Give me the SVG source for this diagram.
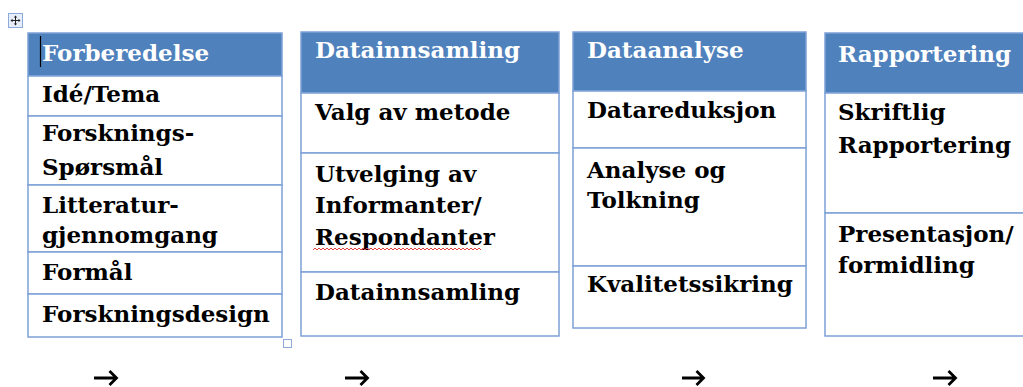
<svg xmlns="http://www.w3.org/2000/svg" width="1023" height="387" viewBox="0 0 1023 387">
  <style>
    .cell { fill: #ffffff; stroke: #7ea1d6; stroke-width: 1.5; }
    .head { fill: #4f81bd; stroke: #7ea1d6; stroke-width: 1.5; }
    .ht { font-family: "DejaVu Serif", "Liberation Serif", serif; font-weight: bold; font-size: 23px; fill: #ffffff; }
    .bt { font-family: "DejaVu Serif", "Liberation Serif", serif; font-weight: bold; font-size: 23px; fill: #000000; }
    .arrow { fill: none; stroke: #000000; stroke-width: 2.8; stroke-linecap: butt; stroke-linejoin: miter; }
  </style>

  <rect width="1023" height="387" fill="#ffffff"/>

  <!-- table move handle -->
  <g id="move-handle">
    <rect x="8.5" y="13.5" width="14" height="14" fill="#e6eefa" stroke="#8eaadb" stroke-width="1"/>
    <path d="M15.5 16 V25 M11 20.5 H20" stroke="#222" stroke-width="1" fill="none"/>
    <path d="M15.5 15.5 L13.8 17.5 H17.2 Z M15.5 25.5 L13.8 23.5 H17.2 Z M10.5 20.5 L12.5 18.8 V22.2 Z M20.5 20.5 L18.5 18.8 V22.2 Z" fill="#222"/>
  </g>

  <!-- Forberedelse -->
  <g id="forberedelse">
    <rect class="head" x="28" y="33" width="254" height="43"/>
    <rect class="cell" x="28" y="76" width="254" height="40"/>
    <rect class="cell" x="28" y="116" width="254" height="69"/>
    <rect class="cell" x="28" y="185" width="254" height="67"/>
    <rect class="cell" x="28" y="252" width="254" height="42"/>
    <rect class="cell" x="28" y="294" width="254" height="43"/>
    <text class="ht" x="42" y="61">Forberedelse</text>
    <line x1="40.5" y1="36" x2="40.5" y2="67" stroke="#000" stroke-width="1.2"/>
    <text class="bt" x="42" y="102">Idé/Tema</text>
    <text class="bt" x="42" y="141">Forsknings-</text>
    <text class="bt" x="42" y="175">Spørsmål</text>
    <text class="bt" x="42" y="213">Litteratur-</text>
    <text class="bt" x="42" y="243">gjennomgang</text>
    <text class="bt" x="42" y="280">Formål</text>
    <text class="bt" x="42" y="322">Forskningsdesign</text>
    <rect x="283.5" y="339.5" width="8" height="8" fill="#ffffff" stroke="#8eaadb" stroke-width="1"/>
  </g>

  <!-- Datainnsamling -->
  <g id="datainnsamling">
    <rect class="head" x="301" y="32" width="258" height="61"/>
    <rect class="cell" x="301" y="93" width="258" height="60"/>
    <rect class="cell" x="301" y="153" width="258" height="119"/>
    <rect class="cell" x="301" y="272" width="258" height="64"/>
    <text class="ht" x="315" y="58">Datainnsamling</text>
    <text class="bt" x="315" y="120">Valg av metode</text>
    <text class="bt" x="315" y="182">Utvelging av</text>
    <text class="bt" x="315" y="213">Informanter/</text>
    <text class="bt" x="315" y="245">Respondanter</text>
    <!-- spell-check squiggle -->
    <path d="M313 250 l2 -2 l2 2 l2 -2 l2 2 l2 -2 l2 2 l2 -2 l2 2 l2 -2 l2 2 l2 -2 l2 2 l2 -2 l2 2 l2 -2 l2 2 l2 -2 l2 2 l2 -2 l2 2 l2 -2 l2 2 l2 -2 l2 2 l2 -2 l2 2 l2 -2 l2 2 l2 -2 l2 2 l2 -2 l2 2 l2 -2 l2 2 l2 -2 l2 2 l2 -2 l2 2 l2 -2 l2 2 l2 -2 l2 2 l2 -2 l2 2 l2 -2 l2 2 l2 -2 l2 2 l2 -2 l2 2 l2 -2 l2 2 l2 -2 l2 2 l2 -2 l2 2 l2 -2 l2 2 l2 -2 l2 2 l2 -2 l2 2 l2 -2 l2 2 l2 -2 l2 2 l2 -2 l2 2 l2 -2 l2 2 l2 -2 l2 2 l2 -2 l2 2 l2 -2 l2 2 l2 -2 l2 2 l2 -2 l2 2 l2 -2 l2 2 l2 -2 l2 2" fill="none" stroke="#e0403a" stroke-width="1"/>
    <text class="bt" x="315" y="300">Datainnsamling</text>
  </g>

  <!-- Dataanalyse -->
  <g id="dataanalyse">
    <rect class="head" x="573" y="32" width="233" height="59"/>
    <rect class="cell" x="573" y="91" width="233" height="57"/>
    <rect class="cell" x="573" y="148" width="233" height="118"/>
    <rect class="cell" x="573" y="266" width="233" height="62"/>
    <text class="ht" x="587" y="58">Dataanalyse</text>
    <text class="bt" x="587" y="118">Datareduksjon</text>
    <text class="bt" x="587" y="178">Analyse og</text>
    <text class="bt" x="587" y="208">Tolkning</text>
    <text class="bt" x="587" y="292">Kvalitetssikring</text>
  </g>

  <!-- Rapportering -->
  <g id="rapportering">
    <rect class="head" x="825" y="33" width="210" height="60"/>
    <rect class="cell" x="825" y="93" width="210" height="120"/>
    <rect class="cell" x="825" y="213" width="210" height="123"/>
    <text class="ht" x="838" y="62">Rapportering</text>
    <text class="bt" x="838" y="120">Skriftlig</text>
    <text class="bt" x="838" y="153">Rapportering</text>
    <text class="bt" x="838" y="242">Presentasjon/</text>
    <text class="bt" x="838" y="273">formidling</text>
  </g>

  <!-- flow arrows between phases -->
  <g id="connectors">
    <path class="arrow" d="M94 378 H116 M109.5 371 L116.5 378 L109.5 385"/>
    <path class="arrow" d="M345 378 H367 M360.5 371 L367.5 378 L360.5 385"/>
    <path class="arrow" d="M682 378 H703 M696.5 371 L703.5 378 L696.5 385"/>
    <path class="arrow" d="M933 378 H955 M948.5 371 L955.5 378 L948.5 385"/>
  </g>
</svg>
